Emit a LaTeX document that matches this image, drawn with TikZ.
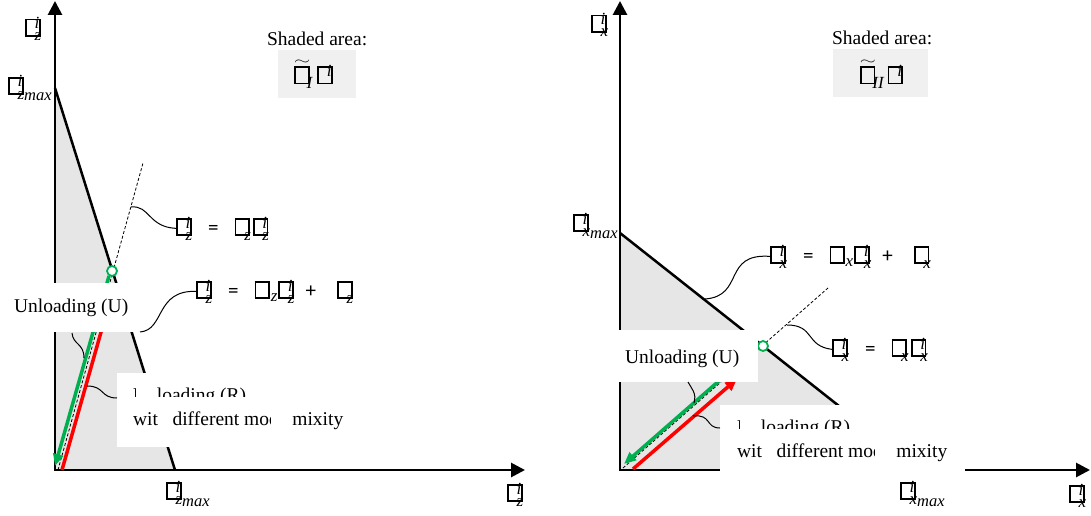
\documentclass[tikz,border=0pt]{standalone}
\usepackage{fontspec}
\usepackage{graphicx}
\setmainfont{Liberation Serif}
\newfontfamily\eqf{Carlito}
\usetikzlibrary{arrows.meta}
\definecolor{grn}{RGB}{0,176,80}
\definecolor{rd}{RGB}{255,0,0}
\definecolor{shadecol}{RGB}{230,230,230}
\definecolor{lblgray}{RGB}{240,240,240}
\newcommand\bx{{\setlength{\fboxsep}{0pt}\setlength{\fboxrule}{1.8pt}\fbox{\rule{0pt}{14.5pt}\rule{12pt}{0pt}}}}
\newcommand\scr{\fontsize{17}{17}\selectfont\itshape}
\newcommand\si[2]{\mbox{\bx\kern-6pt\rlap{\raisebox{6pt}{\scr #1}}\raisebox{-6pt}{\scr #2}\kern1pt}}
\newcommand\sr[1]{\mbox{\bx\kern0.5pt\raisebox{-4pt}{\scr #1}}}
\newcommand\mx{\mbox{\fontsize{16.5}{16}\selectfont\itshape\raisebox{-2pt}{max}}}
\newcommand\tl[1]{\mbox{\rlap{\raisebox{18.5pt}[0pt][0pt]{\kern0pt\resizebox{16pt}{4.5pt}{$\sim$}}}\bx\kern-3pt\raisebox{-5.5pt}{\scr #1}}}
\newcommand\hidp[2]{\setbox0\hbox{#1}#1\llap{\textcolor{white}{\rule[-6pt]{\dimexpr\wd0-#2\relax}{24pt}}}}
\newcommand\eqq{{\eqf\fontsize{21}{22}\selectfont\hspace{15pt}=\hspace{16pt}}}
\newcommand\eqp{{\eqf\fontsize{21}{22}\selectfont\hspace{10pt}+\hspace{21pt}}}
\begin{document}
\begin{tikzpicture}[x=1pt,y=-1pt,
  every node/.style={inner sep=0pt,outer sep=0pt,font=\fontsize{19.5}{23}\selectfont},
  axis/.style={line width=2.8pt,line join=miter,{Triangle[length=14pt,width=14pt]}-{Triangle[length=14pt,width=14pt]}},
  edge/.style={line width=2.5pt},
  dsh/.style={line width=0.8pt,dash pattern=on 3pt off 2pt},
  leader/.style={line width=1pt},
  garrow/.style={grn,line width=3.5pt,-{Triangle[length=12pt,width=10pt]}},
  rarrow/.style={rd,line width=3.5pt,-{Triangle[length=12pt,width=10pt]}},
  pt/.style={circle,draw=grn,line width=1.8pt,fill=white,minimum size=10pt},
  lbl/.style={anchor=base west}]
\useasboundingbox (0,0) rectangle (1091,516);
\fill[white] (0,0) rectangle (1091,516);

% ---------------- left plot ----------------
\fill[shadecol] (55,88) -- (175,470) -- (55,470) -- cycle;
\draw[edge] (55,88) -- (175,470);
\draw[axis] (55,1) -- (55,470) -- (525,470);
\draw[dsh] (58,470) -- (143,163);
\draw[garrow] (109,276) -- (55,466);
\draw[rarrow] (62,470) -- (105,318);
\node[pt] (c1) at (112,271) {};

\coordinate (l1s) at (131,207);
\coordinate (l2s) at (140,332);
\coordinate (lus) at (72,333);
\coordinate (lue) at (84,358);
\coordinate (lrs) at (87,386);
\coordinate (lre) at (117,398);

\fill[white] (0,283) rectangle (142,332);
\node[lbl] (u1) at (14,312) {Unloading (U)};
\fill[white] (117,373) rectangle (367,447);
\node[lbl] (r1a) at (133,401) {\hidp{Un}{3pt}loading (R)};
\fill[white] (122,397) rectangle (362,410);
\node[lbl] (r1b) at (133,425) {wit\hidp{h}{0pt} different mo\hidp{de}{2pt} mixity};

\node[lbl] (e1) at (176,234) {\si{i}{z}\eqq\si{}{z}\kern1pt\si{i}{z}};
\node[lbl] (e2) at (196,297) {\si{i}{z}\eqq\sr{z}\kern1pt\si{i}{z}\eqp\si{}{z}};
\draw[leader] (l1s) .. controls (150,205) and (148,227) .. (e1.west);
\draw[leader] (l2s) .. controls (165,330) and (155,290) .. (e2.west);
\draw[leader] (lus) .. controls (73,345) and (84,343) .. (lue);
\draw[leader] (lrs) .. controls (105,386) and (100,398) .. (lre);

\node[lbl] (ay1) at (25,35) {\si{i}{z}};
\node[lbl] (ym1) at (8,93) {\si{i}{z\mx}};
\node[lbl] (xm1) at (166,498) {\si{i}{z\mx}};
\node[lbl] (ax1) at (507,500) {\si{i}{z}};

\node[lbl] (sa1) at (267,46) {Shaded area:};
\fill[lblgray] (278,50) rectangle (356,98);
\node (sc1) at (311,77) {\tl{I}\kern5pt\si{i}{}};

% ---------------- right plot ----------------
\fill[shadecol] (620,233) -- (920,470) -- (620,470) -- cycle;
\draw[edge] (620,233) -- (920,470);
\draw[axis] (620,1) -- (620,470) -- (1090,470);
\draw[dsh] (623,468) -- (828,288);
\draw[garrow] (752,352) -- (624,464);
\draw[rarrow] (633,469) -- (737,379);
\node[pt] (c2) at (763,346) {};

\coordinate (r3s) at (705,299);
\coordinate (r4s) at (787,325);
\coordinate (rus) at (688,382);
\coordinate (rue) at (694,403);
\coordinate (rrs) at (693,416);
\coordinate (rre) at (720,428);

\fill[white] (605,330) rectangle (758,382);
\node[lbl] (u2) at (625,363) {Unloading (U)};
\fill[white] (720,405) rectangle (965,479);
\node[lbl] (r2a) at (737,433) {\hidp{Un}{3pt}loading (R)};
\fill[white] (725,429) rectangle (960,442);
\node[lbl] (r2b) at (737,457) {wit\hidp{h}{0pt} different mo\hidp{de}{2pt} mixity};

\node[lbl] (e3) at (770,262) {\si{i}{x}\eqq\sr{x}\kern1pt\si{i}{x}\eqp\si{}{x}};
\node[lbl] (e4) at (832,355) {\si{i}{x}\eqq\si{}{x}\kern1pt\si{i}{x}};
\draw[leader] (r3s) .. controls (745,296) and (722,253) .. (e3.west);
\draw[leader] (r4s) .. controls (815,325) and (805,346) .. (e4.west);
\draw[leader] (rus) .. controls (691,388) and (697,393) .. (rue);
\draw[leader] (rrs) .. controls (712,414) and (705,428) .. (rre);

\node[lbl] (ay2) at (591,31) {\si{i}{x}};
\node[lbl] (ym2) at (573,230) {\si{i}{x\mx}};
\node[lbl] (xm2) at (900,498) {\si{i}{x\mx}};
\node[lbl] (ax2) at (1069,501) {\si{i}{x}};

\node[lbl] (sa2) at (832,45) {Shaded area:};
\fill[lblgray] (833,49) rectangle (928,97);
\node (sc2) at (879,77) {\tl{II}\kern4pt\si{i}{}};
\end{tikzpicture}
\end{document}
